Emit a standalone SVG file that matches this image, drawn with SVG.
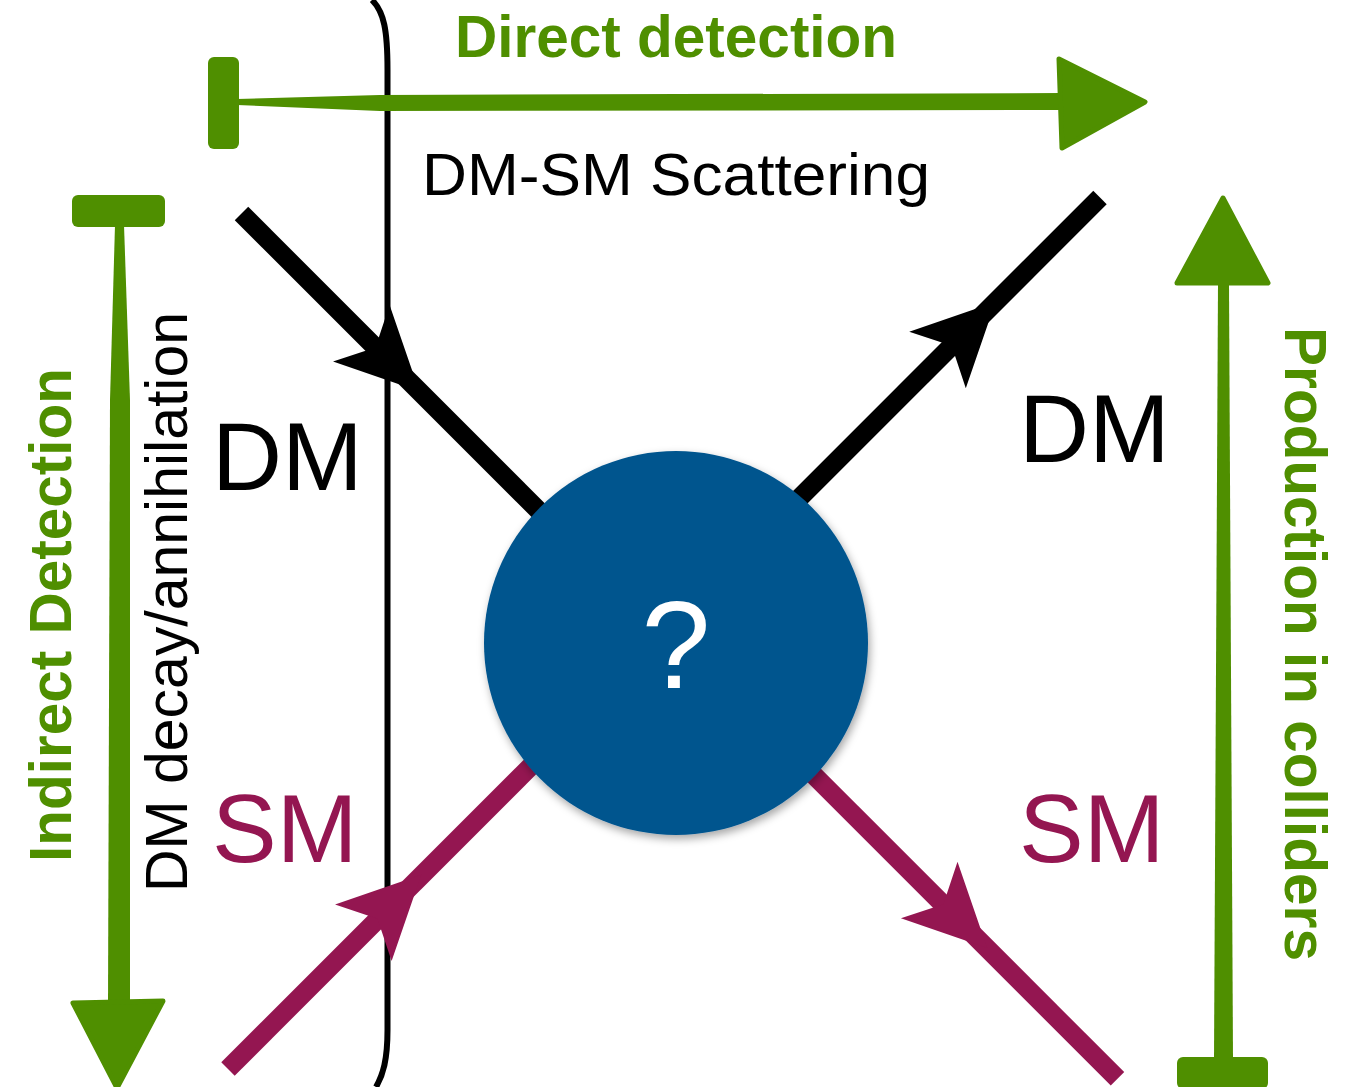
<svg xmlns="http://www.w3.org/2000/svg" xmlns:xlink="http://www.w3.org/1999/xlink" width="1348" height="1087" viewBox="0 0 1348 1087">
<style>
.g{fill:#4F8F00}
.gh{fill:#4F8F00;stroke:#4F8F00;stroke-width:5;stroke-linejoin:round}
.gt{font-family:"Liberation Sans",Arial,sans-serif;font-weight:bold;font-size:58.5px;fill:#4F8F00}
.bt{font-family:"Liberation Sans",Arial,sans-serif;font-size:60px;fill:#000}
.big{font-family:"Liberation Sans",Arial,sans-serif;font-size:97px}
.dm{stroke:#000;stroke-width:19;fill:none}
.sm{stroke:#941651;stroke-width:19;fill:none}
</style>
<defs>
<path id="ah" d="M0 0 L-82 -40 L-62 0 L-82 40 Z"/>
<filter id="shadow" x="-20%" y="-20%" width="140%" height="140%">
<feDropShadow dx="2" dy="4" stdDeviation="4" flood-color="#000" flood-opacity="0.35"/>
</filter>
</defs>
<rect width="1348" height="1087" fill="#fff"/>

<g id="bracket">
<path d="M372 0 C384 12 387.5 30 387.5 70 L387.5 1030 C387.5 1060 383 1075 376 1087" fill="none" stroke="#000" stroke-width="6"/>
</g>

<g id="connectors">
<line class="dm" x1="241.5" y1="213.5" x2="600" y2="572"/>
<use href="#ah" fill="#000" transform="translate(419.3 391.3) rotate(45)"/>
<line class="dm" x1="1100" y1="197.5" x2="760" y2="537.5"/>
<use href="#ah" fill="#000" transform="translate(995.5 302) rotate(-45)"/>
<line class="sm" x1="228" y1="1069" x2="600" y2="697"/>
<use href="#ah" fill="#941651" transform="translate(421.3 874.8) rotate(-45)"/>
<line class="sm" x1="1117.5" y1="1078.8" x2="760" y2="721.3"/>
<use href="#ah" fill="#941651" transform="translate(987.2 948) rotate(45)"/>
</g>

<g id="direct-detection">
<rect class="g" x="208" y="57" width="31" height="92" rx="6"/>
<polygon class="g" points="237,99 380,95 1062,93 1062,110 380,111 237,105"/>
<polygon class="gh" points="1059,59 1145,102 1062,148"/>
<text class="gt" x="455" y="57">Direct detection</text>
</g>

<g id="indirect-detection">
<rect class="g" x="72" y="195" width="93" height="32" rx="6"/>
<polygon class="g" points="115,225 124,225 130,400 130,1002 108,1002 110,400"/>
<polygon class="gh" points="73,1003 163,1001 117,1088"/>
<text class="gt" transform="translate(71 615) rotate(-90)" text-anchor="middle">Indirect Detection</text>
</g>

<g id="production">
<polygon class="gh" points="1223,198 1268,283 1177,283"/>
<polygon class="g" points="1218,283 1229,283 1233,1059 1214,1059"/>
<rect class="g" x="1177" y="1057" width="91" height="32" rx="6"/>
<text class="gt" transform="translate(1285 644) rotate(90)" text-anchor="middle" font-size="58">Production in colliders</text>
</g>

<g id="scattering-label">
<text class="bt" x="422" y="195" textLength="508" lengthAdjust="spacingAndGlyphs">DM-SM Scattering</text>
</g>

<g id="decay-label">
<text class="bt" transform="translate(187 602) rotate(-90)" text-anchor="middle" font-size="59" textLength="580" lengthAdjust="spacingAndGlyphs">DM decay/annihilation</text>
</g>

<g id="dm-in"><text class="big" x="212" y="490" fill="#000">DM</text></g>
<g id="dm-out"><text class="big" x="1019" y="462" fill="#000">DM</text></g>
<g id="sm-in"><text class="big" x="212" y="862" fill="#941651">SM</text></g>
<g id="sm-out"><text class="big" x="1019" y="862" fill="#941651">SM</text></g>

<g id="vertex">
<circle cx="676" cy="643" r="192" fill="#03558E" filter="url(#shadow)"/>
<text x="676" y="688" text-anchor="middle" font-family="Liberation Sans, Arial, sans-serif" font-size="124" fill="#fff">?</text>
</g>
</svg>
